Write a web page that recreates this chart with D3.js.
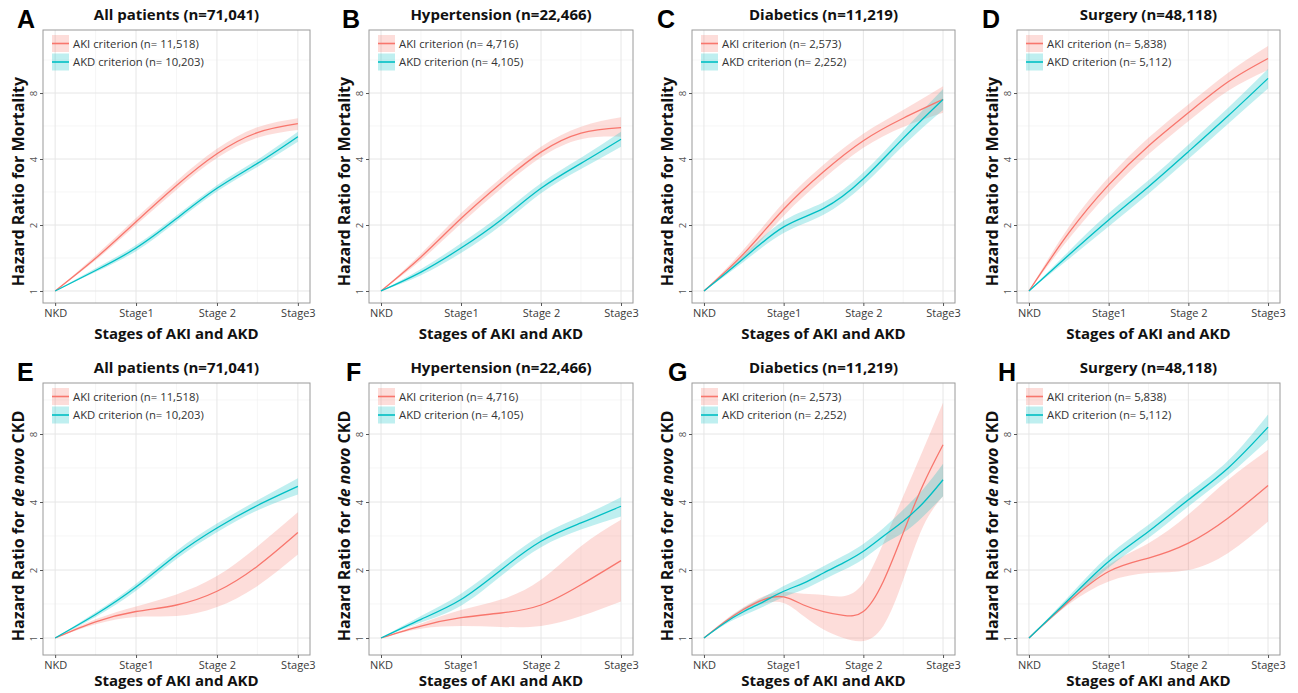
<!DOCTYPE html>
<html><head><meta charset="utf-8">
<script src="https://cdn.jsdelivr.net/npm/d3@7"></script>
<style>
html,body{margin:0;padding:0;background:#fff;}
svg{display:block;font-family:"Open Sans",sans-serif;}
</style></head>
<body><svg id="chart" width="1298" height="693"></svg>
<script>
// ---------- data ----------
const stageLabels = ["NKD", "Stage1", "Stage 2", "Stage3"];
const stageValues = [0, 1, 2, 3];
const yTickValues = [1, 2, 4, 8];
const yTickLabels = ["1", "2", "4", "8"];
const panelLetters = ["A", "B", "C", "D", "E", "F", "G", "H"];
const panelTitles = ["All patients (n=71,041)", "Hypertension (n=22,466)", "Diabetics (n=11,219)", "Surgery (n=48,118)",
                     "All patients (n=71,041)", "Hypertension (n=22,466)", "Diabetics (n=11,219)", "Surgery (n=48,118)"];
const akiLegend = ["AKI criterion (n= 11,518)", "AKI criterion (n= 4,716)", "AKI criterion (n= 2,573)", "AKI criterion (n= 5,838)"];
const akdLegend = ["AKD criterion (n= 10,203)", "AKD criterion (n= 4,105)", "AKD criterion (n= 2,252)", "AKD criterion (n= 5,112)"];
const xTitle = "Stages of AKI and AKD";

const x7 = [0, 0.5, 1, 1.5, 2, 2.5, 3];
const x13 = [0, 0.25, 0.5, 0.75, 1, 1.25, 1.5, 1.75, 2, 2.25, 2.5, 2.75, 3];

// A: mortality, all patients
const A_aki_est = [1, 1.41, 2.07, 3.03, 4.23, 5.28, 5.80];
const A_aki_lo  = [1, 1.38, 2.00, 2.90, 4.04, 5.00, 5.43];
const A_aki_hi  = [1, 1.45, 2.15, 3.17, 4.45, 5.58, 6.14];
const A_akd_est = [1, 1.24, 1.57, 2.14, 2.94, 3.82, 5.06];
const A_akd_lo  = [1, 1.22, 1.52, 2.07, 2.84, 3.68, 4.80];
const A_akd_hi  = [1, 1.27, 1.62, 2.21, 3.04, 3.97, 5.32];
// B: mortality, hypertension
const B_aki_est = [1, 1.43, 2.14, 3.10, 4.30, 5.25, 5.56];
const B_aki_lo  = [1, 1.38, 2.03, 2.93, 4.07, 4.92, 5.06];
const B_aki_hi  = [1, 1.48, 2.26, 3.28, 4.55, 5.62, 6.20];
const B_akd_est = [1, 1.22, 1.57, 2.11, 2.94, 3.82, 4.92];
const B_akd_lo  = [1, 1.18, 1.49, 1.99, 2.79, 3.60, 4.55];
const B_akd_hi  = [1, 1.26, 1.65, 2.23, 3.10, 4.05, 5.32];
// C: mortality, diabetics
const C_aki_est = [1, 1.48, 2.36, 3.50, 4.85, 6.14, 7.48];
const C_aki_lo  = [1, 1.41, 2.20, 3.25, 4.50, 5.60, 6.50];
const C_aki_hi  = [1, 1.55, 2.53, 3.77, 5.22, 6.70, 8.60];
const C_akd_est = [1, 1.41, 1.96, 2.38, 3.25, 4.97, 7.48];
const C_akd_lo  = [1, 1.36, 1.84, 2.23, 3.04, 4.60, 6.70];
const C_akd_hi  = [1, 1.46, 2.09, 2.54, 3.47, 5.37, 8.35];
// D: mortality, surgery
const D_aki_est = [1, 1.84, 3.05, 4.59, 6.50, 9.00, 11.5];
const D_aki_lo  = [1, 1.73, 2.80, 4.20, 5.95, 8.20, 10.2];
const D_aki_hi  = [1, 1.96, 3.30, 5.00, 7.10, 9.90, 13.1];
const D_akd_est = [1, 1.46, 2.11, 2.99, 4.32, 6.30, 9.33];
const D_akd_lo  = [1, 1.40, 1.97, 2.78, 4.00, 5.80, 8.40];
const D_akd_hi  = [1, 1.52, 2.26, 3.20, 4.65, 6.85, 10.3];
// E: de novo CKD, all patients
const E_aki_est = [1, 1.18, 1.31, 1.40, 1.61, 2.08, 2.93];
const E_aki_lo  = [1, 1.15, 1.24, 1.25, 1.37, 1.70, 2.34];
const E_aki_hi  = [1, 1.21, 1.38, 1.56, 1.88, 2.54, 3.60];
const E_akd_est = [1, 1.27, 1.68, 2.33, 3.07, 3.86, 4.69];
const E_akd_lo  = [1, 1.24, 1.62, 2.24, 2.94, 3.67, 4.32];
const E_akd_hi  = [1, 1.30, 1.74, 2.43, 3.21, 4.07, 5.10];
// F: de novo CKD, hypertension
const F_aki_est = [1, 1.13, 1.23, 1.29, 1.40, 1.72, 2.20];
const F_aki_lo  = [1, 1.10, 1.13, 1.12, 1.13, 1.25, 1.45];
const F_aki_hi  = [1, 1.16, 1.33, 1.48, 1.81, 2.55, 3.34];
const F_akd_est = [1, 1.21, 1.48, 2.00, 2.68, 3.23, 3.83];
const F_akd_lo  = [1, 1.17, 1.39, 1.88, 2.52, 3.02, 3.45];
const F_akd_hi  = [1, 1.25, 1.57, 2.13, 2.85, 3.45, 4.20];
// G: de novo CKD, diabetics (finer grid)
const G_aki_est = [1, 1.17, 1.34, 1.48, 1.52, 1.40, 1.31, 1.26, 1.31, 1.78, 2.92, 4.77, 7.17];
const G_aki_lo  = [1, 1.15, 1.31, 1.42, 1.43, 1.25, 1.09, 1.00, 0.97, 1.13, 1.81, 3.12, 4.24];
const G_aki_hi  = [1, 1.19, 1.37, 1.53, 1.60, 1.57, 1.55, 1.53, 1.75, 2.63, 4.24, 6.82, 11.0];
const G_akd_est = [1, 1.16, 1.31, 1.45, 1.61, 1.75, 1.94, 2.15, 2.42, 2.82, 3.29, 3.96, 5.02];
const G_akd_lo  = [1, 1.14, 1.26, 1.38, 1.52, 1.64, 1.81, 2.00, 2.24, 2.60, 2.92, 3.45, 4.24];
const G_akd_hi  = [1, 1.18, 1.36, 1.52, 1.70, 1.87, 2.08, 2.31, 2.61, 3.06, 3.70, 4.55, 5.90];
// H: de novo CKD, surgery
const H_aki_est = [1, 1.45, 1.97, 2.26, 2.63, 3.40, 4.73];
const H_aki_lo  = [1, 1.41, 1.78, 1.94, 2.00, 2.38, 3.28];
const H_aki_hi  = [1, 1.49, 2.11, 2.63, 3.52, 5.02, 6.82];
const H_akd_est = [1, 1.48, 2.18, 2.96, 4.09, 5.66, 8.58];
const H_akd_lo  = [1, 1.43, 2.05, 2.77, 3.82, 5.25, 7.55];
const H_akd_hi  = [1, 1.53, 2.32, 3.17, 4.38, 6.10, 9.75];

const panelData = [
  {x: x7, aki: [A_aki_est, A_aki_lo, A_aki_hi], akd: [A_akd_est, A_akd_lo, A_akd_hi]},
  {x: x7, aki: [B_aki_est, B_aki_lo, B_aki_hi], akd: [B_akd_est, B_akd_lo, B_akd_hi]},
  {x: x7, aki: [C_aki_est, C_aki_lo, C_aki_hi], akd: [C_akd_est, C_akd_lo, C_akd_hi]},
  {x: x7, aki: [D_aki_est, D_aki_lo, D_aki_hi], akd: [D_akd_est, D_akd_lo, D_akd_hi]},
  {x: x7, aki: [E_aki_est, E_aki_lo, E_aki_hi], akd: [E_akd_est, E_akd_lo, E_akd_hi]},
  {x: x7, aki: [F_aki_est, F_aki_lo, F_aki_hi], akd: [F_akd_est, F_akd_lo, F_akd_hi]},
  {x: x13, aki: [G_aki_est, G_aki_lo, G_aki_hi], akd: [G_akd_est, G_akd_lo, G_akd_hi]},
  {x: x7, aki: [H_aki_est, H_aki_lo, H_aki_hi], akd: [H_akd_est, H_akd_lo, H_akd_hi]},
];

// ---------- layout ----------
const colLeft = [43, 369, 692, 1017];
const colRight = [310, 633, 955, 1280];
const letterDx = [-26, -27, -35, -35, -26, -23, -24, -19];
const rowLayout = [
  {top: 30, bottom: 303, yDomain: [Math.pow(2, -0.182), Math.pow(2, 3.955)], yTitleShift: 15, xTitleDy: 36},
  {top: 383, bottom: 655, yDomain: [Math.pow(2, -0.25), Math.pow(2, 3.75)], yTitleShift: 7, xTitleDy: 31}
];
const AKI_COL = "#F8766D", AKD_COL = "#00BFC4";
const RIB_OP = 0.25;

const svg = d3.select("#chart");

panelData.forEach((pd, i) => {
  const row = Math.floor(i / 4), col = i % 4;
  const L = colLeft[col], R = colRight[col];
  const T = rowLayout[row].top, B = rowLayout[row].bottom;
  const x = d3.scaleLinear().domain([-0.15, 3.15]).range([L, R]);
  const y = d3.scaleLog().base(2).domain(rowLayout[row].yDomain).range([B, T]);
  const g = svg.append("g");

  const clipId = "clip" + i;
  g.append("clipPath").attr("id", clipId).append("rect")
    .attr("x", L).attr("y", T).attr("width", R - L).attr("height", B - T);

  // grid
  const grid = g.append("g");
  [0.5, 1.5, 2.5].forEach(v => grid.append("line")
    .attr("x1", x(v)).attr("x2", x(v)).attr("y1", T).attr("y2", B)
    .attr("stroke", "#f0f0f0").attr("stroke-width", 0.6));
  [Math.SQRT2, 2 * Math.SQRT2, 4 * Math.SQRT2, 8 * Math.SQRT2].forEach(v => {
    if (v > y.domain()[1]) return;
    grid.append("line").attr("x1", L).attr("x2", R).attr("y1", y(v)).attr("y2", y(v))
      .attr("stroke", "#f0f0f0").attr("stroke-width", 0.6);
  });
  stageValues.forEach(v => grid.append("line")
    .attr("x1", x(v)).attr("x2", x(v)).attr("y1", T).attr("y2", B)
    .attr("stroke", "#e6e6e6").attr("stroke-width", 1));
  yTickValues.forEach(v => grid.append("line")
    .attr("x1", L).attr("x2", R).attr("y1", y(v)).attr("y2", y(v))
    .attr("stroke", "#e6e6e6").attr("stroke-width", 1));

  // ribbons and lines
  const pts = (arr) => pd.x.map((xv, k) => ({x: xv, est: arr[0][k], lo: arr[1][k], hi: arr[2][k]}));
  const curve = d3.curveNatural;
  const area = d3.area().x(d => x(d.x)).y0(d => y(d.lo)).y1(d => y(d.hi)).curve(curve);
  const line = d3.line().x(d => x(d.x)).y(d => y(d.est)).curve(curve);
  const plot = g.append("g").attr("clip-path", `url(#${clipId})`);
  const akiPts = pts(pd.aki), akdPts = pts(pd.akd);
  plot.append("path").datum(akiPts).attr("d", area).attr("fill", AKI_COL).attr("fill-opacity", RIB_OP);
  plot.append("path").datum(akdPts).attr("d", area).attr("fill", AKD_COL).attr("fill-opacity", RIB_OP);
  plot.append("path").datum(akiPts).attr("d", line).attr("fill", "none").attr("stroke", AKI_COL).attr("stroke-width", 1.3);
  plot.append("path").datum(akdPts).attr("d", line).attr("fill", "none").attr("stroke", AKD_COL).attr("stroke-width", 1.3);

  // border
  g.append("rect").attr("x", L).attr("y", T).attr("width", R - L).attr("height", B - T)
    .attr("fill", "none").attr("stroke", "#9a9a9a").attr("stroke-width", 1);

  // x axis
  const xAxis = d3.axisBottom(x).tickValues(stageValues).tickFormat((d, k) => stageLabels[k])
    .tickSize(3).tickPadding(3);
  const xa = g.append("g").attr("transform", `translate(0,${B})`).call(xAxis);
  xa.select(".domain").remove();
  xa.selectAll(".tick line").attr("stroke", "#555");
  xa.selectAll(".tick text").attr("fill", "#3a3a3a").style("font-size", "11px")
    .style("font-family", "'Open Sans', sans-serif");

  // y axis
  const yAxis = d3.axisLeft(y).tickValues(yTickValues).tickFormat((d, k) => yTickLabels[k])
    .tickSize(3).tickPadding(3);
  const ya = g.append("g").attr("transform", `translate(${L},0)`).call(yAxis);
  ya.select(".domain").remove();
  ya.selectAll(".tick line").attr("stroke", "#555");
  ya.selectAll(".tick text").attr("fill", "#555").style("font-size", "9.5px")
    .style("font-family", "'Open Sans', sans-serif")
    .attr("text-anchor", "middle").attr("x", null)
    .attr("transform", "translate(-9,0) rotate(-90)").attr("y", 0).attr("dy", "0.35em");

  // axis titles
  g.append("text").attr("x", (L + R) / 2).attr("y", B + rowLayout[row].xTitleDy).attr("text-anchor", "middle")
    .style("font-size", "15px").style("font-weight", "bold").attr("fill", "#111").text(xTitle);
  const yc = (T + B) / 2 + rowLayout[row].yTitleShift;
  const yt = g.append("text").attr("transform", `translate(${L - 19},${yc}) rotate(-90)`)
    .attr("text-anchor", "middle").style("font-size", "16px").style("font-weight", "bold").attr("fill", "#111");
  if (row === 0) {
    yt.text("Hazard Ratio for Mortality");
  } else {
    yt.append("tspan").text("Hazard Ratio for ");
    yt.append("tspan").style("font-style", "italic").text("de novo");
    yt.append("tspan").text(" CKD");
  }

  // panel title and letter
  g.append("text").attr("x", (L + R) / 2).attr("y", T - 10).attr("text-anchor", "middle")
    .style("font-size", "15px").style("font-weight", "bold").attr("fill", "#111").text(panelTitles[i]);
  g.append("text").attr("x", L + letterDx[i]).attr("y", T - 2)
    .style("font-family", "Arial, 'Liberation Sans', sans-serif")
    .style("font-size", "25px").style("font-weight", "bold").attr("fill", "#000").text(panelLetters[i]);

  // legend
  const lg = g.append("g").attr("transform", `translate(${L + 9},${T + 5})`);
  [[AKI_COL, akiLegend[col]], [AKD_COL, akdLegend[col]]].forEach((it, k) => {
    const ky = k * 18.5;
    lg.append("rect").attr("x", 0).attr("y", ky).attr("width", 17).attr("height", 17)
      .attr("fill", it[0]).attr("fill-opacity", RIB_OP);
    lg.append("line").attr("x1", 0).attr("x2", 17).attr("y1", ky + 8.5).attr("y2", ky + 8.5)
      .attr("stroke", it[0]).attr("stroke-width", 1.6);
    lg.append("text").attr("x", 21).attr("y", ky + 8.5).attr("dy", "0.36em")
      .style("font-size", "11.3px").attr("fill", "#333").text(it[1]);
  });
});
</script>
</body></html>
